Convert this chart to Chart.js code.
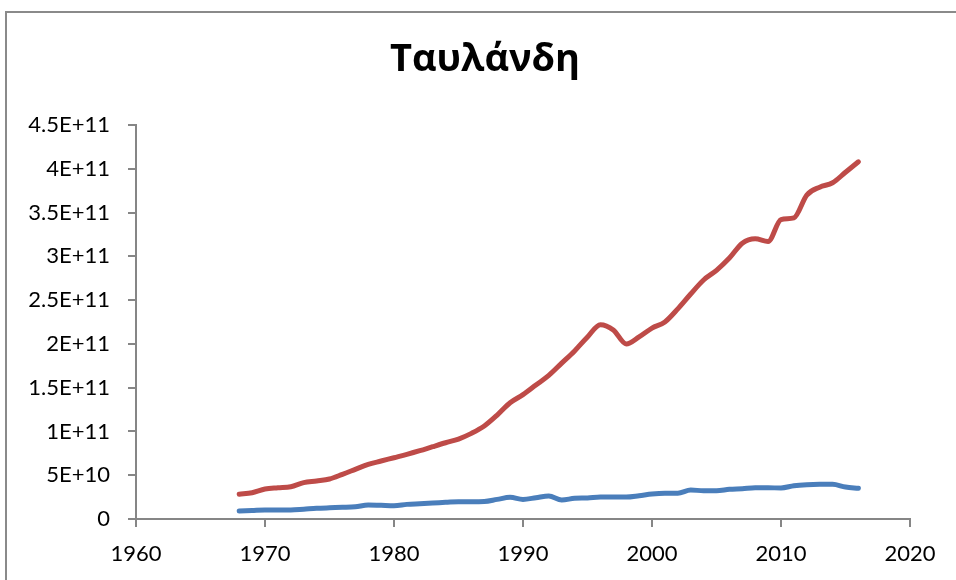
<!DOCTYPE html>
<html>
<head>
<meta charset="utf-8">
<script src="https://cdn.jsdelivr.net/npm/chart.js@4"></script>
<style>
  body { margin: 0; background: #fff; }
  .frame {
    position: absolute; left: 5px; top: 11px; width: 960px; height: 580px;
    border-left: 2px solid #8a8a8a; border-top: 2px solid #8a8a8a;
  }
  #chart { position: absolute; left: 0; top: 0; }
</style>
</head>
<body>
<div class="frame"></div>
<canvas id="chart" width="956" height="580"></canvas>
<script>
const years = [];
for (let y = 1968; y <= 2016; y++) years.push(y);

// upper series (red)
const redValues = [
    2.82e10, 3.0e10, 3.42e10, 3.57e10, 3.69e10, 4.15e10, 4.34e10, 4.57e10, 5.1e10, 5.67e10,
    6.24e10, 6.62e10, 7.0e10, 7.38e10, 7.8e10, 8.26e10, 8.71e10, 9.13e10, 9.78e10, 1.062e11,
    1.187e11, 1.328e11, 1.42e11, 1.53e11, 1.64e11, 1.78e11, 1.92e11, 2.08e11, 2.22e11, 2.16e11,
    2.0e11, 2.08e11, 2.18e11, 2.25e11, 2.4e11, 2.57e11, 2.73e11, 2.84e11, 2.98e11, 3.15e11,
    3.2e11, 3.17e11, 3.42e11, 3.44e11, 3.7e11, 3.79e11, 3.84e11, 3.96e11, 4.08e11
];

// lower series (blue)
const blueValues = [
    0.91e10, 0.97e10, 1.03e10, 1.03e10, 1.03e10, 1.12e10, 1.22e10, 1.28e10, 1.33e10, 1.4e10,
    1.6e10, 1.56e10, 1.52e10, 1.67e10, 1.75e10, 1.83e10, 1.9e10, 1.98e10, 1.98e10, 2.0e10,
    2.24e10, 2.47e10, 2.24e10, 2.43e10, 2.63e10, 2.17e10, 2.36e10, 2.4e10, 2.51e10, 2.51e10,
    2.51e10, 2.66e10, 2.85e10, 2.93e10, 2.93e10, 3.31e10, 3.23e10, 3.23e10, 3.39e10, 3.46e10,
    3.57e10, 3.57e10, 3.54e10, 3.8e10, 3.92e10, 3.96e10, 3.96e10, 3.65e10, 3.5e10
];

const xTicks = [1960, 1970, 1980, 1990, 2000, 2010, 2020];
const yTickStep = 5e10;
const yMax = 4.5e11;
const chartTitle = 'Ταυλάνδη';

function toPoints(vals) {
    return vals.map((v, i) => ({ x: years[i], y: v }));
}

// Excel-style scientific labels: 4.5E+11, 5E+10, 0
function sciLabel(v) {
    if (v === 0) return '0';
    const exp = Math.floor(Math.log10(v));
    const mant = Math.round(v / Math.pow(10, exp) * 10) / 10;
    return mant + 'E+' + exp;
}

const axisGray = '#868686';
const tickFont = { family: 'Lato, "Open Sans", sans-serif', size: 22 };

// title is centred on the whole frame, not on the plot, so draw it by hand
const frameTitle = {
    id: 'frameTitle',
    afterDraw(chart) {
        const ctx = chart.ctx;
        ctx.save();
        ctx.font = 'bold 38px "Open Sans", "Noto Sans", sans-serif';
        ctx.fillStyle = '#000';
        ctx.textAlign = 'center';
        ctx.textBaseline = 'alphabetic';
        ctx.fillText(chartTitle, 485, 71);
        ctx.restore();
    }
};

new Chart(document.getElementById('chart'), {
    type: 'line',
    data: {
        datasets: [
            {
                data: toPoints(blueValues),
                borderColor: '#4a7ebb',
                borderWidth: 5,
                pointRadius: 0,
                tension: 0.4,
                cubicInterpolationMode: 'monotone',
                borderCapStyle: 'round'
            },
            {
                data: toPoints(redValues),
                borderColor: '#be4b48',
                borderWidth: 5,
                pointRadius: 0,
                tension: 0.4,
                cubicInterpolationMode: 'monotone',
                borderCapStyle: 'round'
            }
        ]
    },
    plugins: [frameTitle],
    options: {
        responsive: false,
        animation: false,
        layout: { padding: { left: 0, right: 46, top: 125, bottom: 0 } },
        plugins: {
            legend: { display: false },
            tooltip: { enabled: false },
            title: { display: false }
        },
        scales: {
            x: {
                type: 'linear',
                min: xTicks[0],
                max: xTicks[xTicks.length - 1],
                afterBuildTicks: (scale) => { scale.ticks = xTicks.map(v => ({ value: v })); },
                afterFit: (scale) => { scale.height = 61; },
                grid: { drawOnChartArea: false, drawTicks: true, tickLength: 8, color: axisGray, lineWidth: 2 },
                border: { display: true, color: axisGray, width: 2 },
                ticks: {
                    color: '#000',
                    font: tickFont,
                    padding: 14,
                    maxRotation: 0,
                    callback: (v) => String(v)
                }
            },
            y: {
                min: 0,
                max: yMax,
                afterFit: (scale) => { scale.width = 136; },
                grid: { drawOnChartArea: false, drawTicks: true, tickLength: 8, color: axisGray, lineWidth: 2 },
                border: { display: true, color: axisGray, width: 2 },
                ticks: {
                    stepSize: yTickStep,
                    color: '#000',
                    font: tickFont,
                    padding: 18,
                    callback: (v) => sciLabel(v)
                }
            }
        }
    }
});
</script>
</body>
</html>
